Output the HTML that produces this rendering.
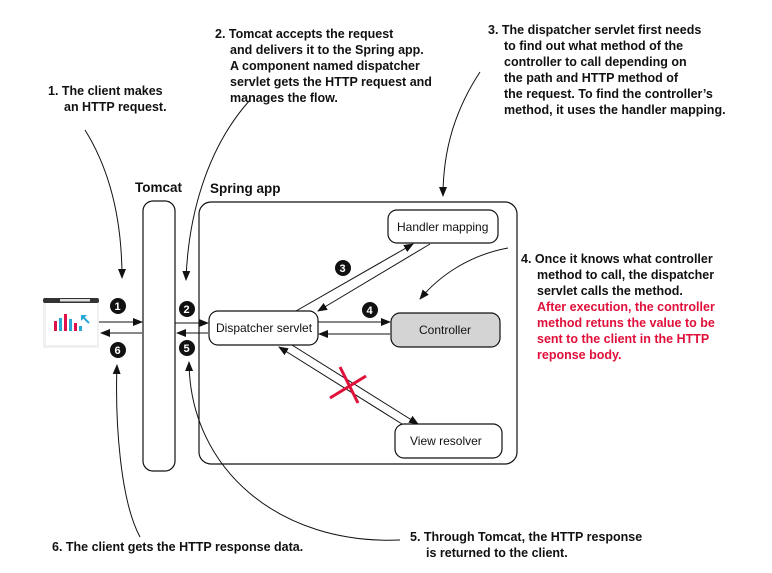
<!DOCTYPE html>
<html><head><meta charset="utf-8"><style>
html,body{margin:0;padding:0;background:#fff;}
svg{display:block;}
.t{font-family:"Liberation Sans",sans-serif;font-weight:bold;font-size:12.5px;fill:#111;}
.r{fill:#e0103a;}
.b{font-family:"Liberation Sans",sans-serif;font-size:12px;fill:#111;}
.n{font-family:"Liberation Sans",sans-serif;font-weight:bold;font-size:11px;fill:#fff;}
</style></head><body>
<svg width="772" height="573" viewBox="0 0 772 573" xmlns="http://www.w3.org/2000/svg">
<defs>
<marker id="a" markerWidth="10" markerHeight="8" refX="9" refY="4" orient="auto" markerUnits="userSpaceOnUse">
<path d="M0,0 L10,4 L0,8 Z" fill="#111"/></marker>
</defs>
<g class="t">
<text x="48" y="95">1. The client makes</text>
<text x="64" y="111">an HTTP request.</text>
<text x="215" y="38">2. Tomcat accepts the request</text>
<text x="230" y="54">and delivers it to the Spring app.</text>
<text x="230" y="70">A component named dispatcher</text>
<text x="230" y="86">servlet gets the HTTP request and</text>
<text x="230" y="102">manages the flow.</text>
<text x="488" y="34">3. The dispatcher servlet first needs</text>
<text x="504" y="50">to find out what method of the</text>
<text x="504" y="66">controller to call depending on</text>
<text x="504" y="82">the path and HTTP method of</text>
<text x="504" y="98">the request. To find the controller’s</text>
<text x="504" y="114">method, it uses the handler mapping.</text>
<text x="521" y="263">4. Once it knows what controller</text>
<text x="537" y="279">method to call, the dispatcher</text>
<text x="537" y="295">servlet calls the method.</text>
<text x="537" y="311" class="t r">After execution, the controller</text>
<text x="537" y="327" class="t r">method retuns the value to be</text>
<text x="537" y="343" class="t r">sent to the client in the HTTP</text>
<text x="537" y="359" class="t r">reponse body.</text>
<text x="410" y="541">5. Through Tomcat, the HTTP response</text>
<text x="426" y="557">is returned to the client.</text>
<text x="52" y="551">6. The client gets the HTTP response data.</text>
<text x="135" y="192" style="font-size:13.5px">Tomcat</text>
<text x="210" y="193" style="font-size:13.5px">Spring app</text>
</g>
<g fill="none" stroke="#111" stroke-width="1.2">
<rect x="143" y="201" width="32" height="270" rx="10"/>
<rect x="199" y="202" width="318" height="262" rx="12"/>
<rect x="209" y="311" width="109" height="34" rx="9" fill="#fff"/>
<rect x="388" y="210" width="110" height="33" rx="9" fill="#fff"/>
<rect x="391" y="313" width="109" height="34" rx="9" fill="#d4d4d4"/>
<rect x="395" y="424" width="107" height="34" rx="9" fill="#fff"/>
</g>
<g class="b">
<text x="216" y="332">Dispatcher servlet</text>
<text x="397" y="231">Handler mapping</text>
<text x="419" y="334">Controller</text>
<text x="410" y="445">View resolver</text>
</g>
<g fill="none" stroke="#111" stroke-width="1">
<line x1="98" y1="322" x2="142" y2="322" marker-end="url(#a)"/>
<line x1="142" y1="333" x2="101" y2="333" marker-end="url(#a)"/>
<line x1="175" y1="323" x2="208" y2="323" marker-end="url(#a)"/>
<line x1="208" y1="333" x2="177" y2="333" marker-end="url(#a)"/>
<line x1="296" y1="311" x2="413" y2="244" marker-end="url(#a)"/>
<line x1="430" y1="244" x2="318" y2="311" marker-end="url(#a)"/>
<line x1="318" y1="322" x2="390" y2="322" marker-end="url(#a)"/>
<line x1="390" y1="334" x2="319" y2="334" marker-end="url(#a)"/>
<line x1="292" y1="345" x2="418" y2="424" marker-end="url(#a)"/>
<line x1="402" y1="424" x2="279" y2="347" marker-end="url(#a)"/>
<path d="M85,130 C110,170 122,220 122,278" marker-end="url(#a)"/>
<path d="M250,100 C205,150 188,220 186,280" marker-end="url(#a)"/>
<path d="M480,72 C455,110 443,150 443,196" marker-end="url(#a)"/>
<path d="M508,248 C470,255 440,275 420,299" marker-end="url(#a)"/>
<path d="M400,540 C280,545 190,470 189,362" marker-end="url(#a)"/>
<path d="M140,537 C120,500 115,420 117,365" marker-end="url(#a)"/>
</g>
<g stroke="#e0103a" stroke-width="3">
<line x1="330" y1="398" x2="366" y2="376"/>
<line x1="340" y1="367" x2="358" y2="403"/>
</g>
<g>
<circle cx="118" cy="306" r="8" fill="#111"/><text x="114.5" y="310" class="n">1</text>
<circle cx="118" cy="350" r="8" fill="#111"/><text x="114.5" y="354" class="n">6</text>
<circle cx="187" cy="309" r="8" fill="#111"/><text x="183.5" y="313" class="n">2</text>
<circle cx="187" cy="348" r="8" fill="#111"/><text x="183.5" y="352" class="n">5</text>
<circle cx="343" cy="268" r="8" fill="#111"/><text x="339.5" y="272" class="n">3</text>
<circle cx="370" cy="310" r="8" fill="#111"/><text x="366.5" y="314" class="n">4</text>
</g>
<g>
<rect x="43" y="302" width="56" height="46" fill="#f0f0f0"/>
<rect x="46" y="303" width="51" height="42" fill="#fff"/>
<rect x="43" y="298" width="56" height="5" rx="2" fill="#333"/>
<rect x="60" y="299" width="30" height="2.5" fill="#ddd"/>
<rect x="54" y="321" width="3" height="10" fill="#e0104a"/>
<rect x="59" y="318" width="3" height="13" fill="#2aa8d8"/>
<rect x="64" y="314" width="3" height="17" fill="#e0104a"/>
<rect x="69" y="319" width="3" height="12" fill="#2aa8d8"/>
<rect x="74" y="323" width="3" height="8" fill="#e0104a"/>
<rect x="79" y="326" width="3" height="5" fill="#2aa8d8"/>
<line x1="89" y1="323" x2="83" y2="317" stroke="#2aa8d8" stroke-width="2"/>
<path d="M81,315 L87,315 L81,321 Z" fill="#2aa8d8"/>
</g>
</svg>
</body></html>
